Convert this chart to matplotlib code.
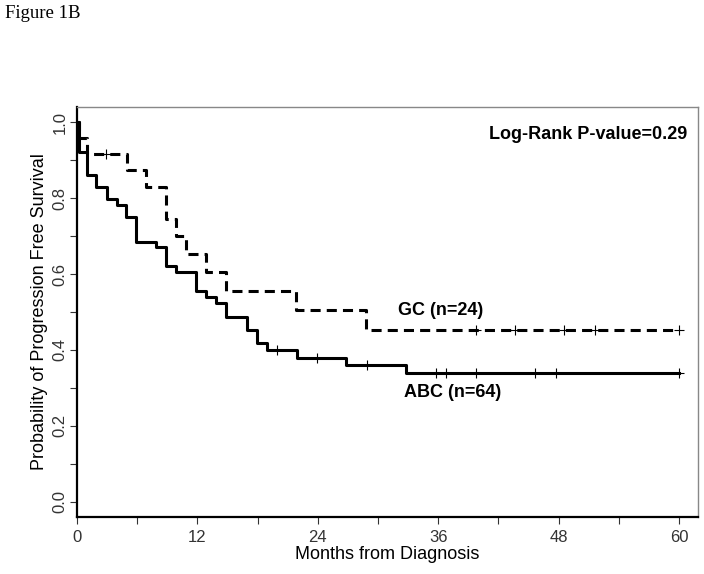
import numpy as np
import matplotlib
matplotlib.use('Agg')
import matplotlib.pyplot as plt

plt.rcParams['font.family'] = ['Liberation Sans', 'DejaVu Sans']

# ABC (n=64) - solid curve
abc_t = [0, 0.2, 0.95, 1.9, 2.95, 3.95, 4.9, 5.9, 7.9, 8.9, 9.9, 11.9, 12.9, 13.9,
         14.9, 16.9, 17.9, 18.9, 21.9, 26.8, 32.8, 60]
abc_s = [1.0, 0.922, 0.860, 0.829, 0.798, 0.781, 0.750, 0.684, 0.670, 0.621, 0.606,
         0.556, 0.540, 0.524, 0.488, 0.453, 0.419, 0.400, 0.380, 0.360, 0.339, 0.339]
abc_cens = [19.9, 23.9, 28.9, 35.8, 36.8, 39.8, 45.7, 47.7, 60]

# GC (n=24) - dashed curve
gc_t = [0, 0.2, 0.97, 5.0, 6.9, 8.9, 9.9, 10.9, 12.9, 14.9, 21.8, 28.8, 60]
gc_s = [1.0, 0.958, 0.917, 0.874, 0.830, 0.744, 0.700, 0.653, 0.605, 0.555, 0.504,
        0.453, 0.453]
gc_cens = [2.9, 39.8, 43.7, 48.5, 51.6, 60]


def surv_at(times, surv, t):
    idx = np.searchsorted(times, t, side='right') - 1
    return np.asarray(surv)[idx]


fig = plt.figure(figsize=(7.04, 5.74), dpi=100)
ax = fig.add_axes([77 / 704, 1 - 517 / 574, (698 - 77) / 704, (517 - 107) / 574])

ax.step(abc_t, abc_s, where='post', color='black', lw=2.2)
ax.plot(abc_cens, surv_at(abc_t, abc_s, abc_cens), '+', color='black', ms=7, mew=0.8)

ax.step(gc_t, gc_s, where='post', color='black', lw=2.2, linestyle=(0, (3.3, 2.0)))
ax.plot(gc_cens, surv_at(gc_t, gc_s, gc_cens), '+', color='black', ms=7, mew=0.8)

ax.set_xlim(0, 61.9)
ax.set_ylim(-0.04, 1.04)
ax.set_xticks(np.arange(0, 61, 6))
ax.set_xticklabels(['0', '', '12', '', '24', '', '36', '', '48', '', '60'])
ax.set_yticks(np.arange(0, 1.01, 0.1))
ax.set_yticklabels(['0.0', '', '0.2', '', '0.4', '', '0.6', '', '0.8', '', '1.0'],
                   rotation=90, va='center')
ax.tick_params(axis='both', length=5, width=0.8, labelsize=12, direction='out',
               colors='#333333')
ax.tick_params(axis='x', pad=4)
ax.tick_params(axis='y', pad=2)

for side in ['top', 'right']:
    ax.spines[side].set_color('#888888')
    ax.spines[side].set_linewidth(1.0)
for side in ['left', 'bottom']:
    ax.spines[side].set_color('black')
    ax.spines[side].set_linewidth(1.6)

ax.set_xlabel('Months from Diagnosis', fontsize=13, labelpad=1)
ax.set_ylabel('Probability of Progression Free Survival', fontsize=13, labelpad=3)

ax.text(32.0, 0.503, 'GC (n=24)', fontsize=13, fontweight='bold', va='center', ha='left')
ax.text(32.6, 0.287, 'ABC (n=64)', fontsize=13, fontweight='bold', va='center', ha='left')
ax.text(60.8, 0.968, 'Log-Rank P-value=0.29', fontsize=13, fontweight='bold',
        va='center', ha='right')

fig.text(5 / 704, 1 - 14 / 574, 'Figure 1B', family=['Liberation Serif', 'DejaVu Serif'],
         fontsize=13.5, va='center', ha='left')

fig.savefig('out.png', dpi=100)
